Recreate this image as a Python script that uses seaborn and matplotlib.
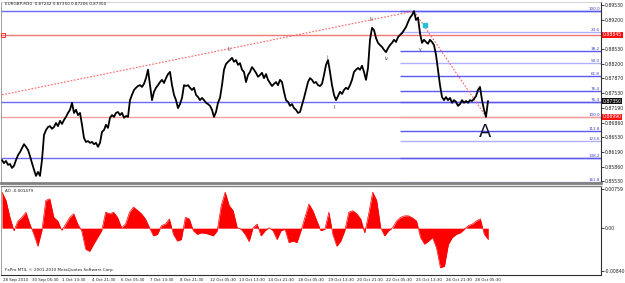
import numpy as np
import matplotlib
matplotlib.use("Agg")
import matplotlib.pyplot as plt
import matplotlib.transforms as mtransforms
import seaborn as sns

sns.set_theme(style="white")
plt.rcParams['font.family'] = ['DejaVu Sans']

# ---------------- data ----------------
close = [
    0.8601, 0.8594, 0.8599, 0.8590, 0.8592, 0.8583, 0.8588, 0.8601, 0.8612, 0.8619,
    0.8628, 0.8637, 0.8631, 0.8624, 0.8610, 0.8594, 0.8579, 0.8565, 0.8574, 0.8565,
    0.8601, 0.8658, 0.8669, 0.8676, 0.8678, 0.8672, 0.8676, 0.8685, 0.8678, 0.8690,
    0.8683, 0.8692, 0.8699, 0.8708, 0.8715, 0.8731, 0.8708, 0.8715, 0.8703, 0.8708,
    0.8681, 0.8651, 0.8642, 0.8644, 0.8640, 0.8642, 0.8637, 0.8640, 0.8631, 0.8640,
    0.8665, 0.8669, 0.8681, 0.8674, 0.8697, 0.8703, 0.8699, 0.8708, 0.8710, 0.8703,
    0.8708, 0.8697, 0.8701, 0.8699, 0.8737, 0.8749, 0.8760, 0.8765, 0.8769, 0.8771,
    0.8767, 0.8774, 0.8787, 0.8806, 0.8771, 0.8737, 0.8756, 0.8765, 0.8771, 0.8778,
    0.8783, 0.8776, 0.8787, 0.8796, 0.8801, 0.8771, 0.8749, 0.8737, 0.8719, 0.8728,
    0.8742, 0.8771, 0.8769, 0.8771, 0.8765, 0.8760, 0.8765, 0.8749, 0.8744, 0.8737,
    0.8742, 0.8737, 0.8731, 0.8728, 0.8724, 0.8715, 0.8699, 0.8710, 0.8731, 0.8742,
    0.8771, 0.8806, 0.8819, 0.8824, 0.8828, 0.8833, 0.8824, 0.8828, 0.8817, 0.8821,
    0.8806, 0.8801, 0.8778, 0.8794, 0.8801, 0.8812, 0.8806, 0.8799, 0.8790, 0.8794,
    0.8799, 0.8787, 0.8796, 0.8783, 0.8776, 0.8769, 0.8774, 0.8778, 0.8771, 0.8783,
    0.8778, 0.8756, 0.8737, 0.8733, 0.8724, 0.8728, 0.8719, 0.8715, 0.8708, 0.8710,
    0.8726, 0.8742, 0.8760, 0.8778, 0.8787, 0.8783, 0.8776, 0.8778, 0.8771, 0.8769,
    0.8774, 0.8794, 0.8817, 0.8828, 0.8801, 0.8771, 0.8749, 0.8737, 0.8746, 0.8756,
    0.8751, 0.8760, 0.8765, 0.8762, 0.8771, 0.8783, 0.8801, 0.8806, 0.8810, 0.8806,
    0.8815, 0.8801, 0.8783, 0.8810, 0.8874, 0.8901, 0.8896, 0.8878, 0.8867, 0.8862,
    0.8858, 0.8851, 0.8846, 0.8855, 0.8862, 0.8867, 0.8874, 0.8869, 0.8880, 0.8885,
    0.8889, 0.8896, 0.8903, 0.8914, 0.8924, 0.8930, 0.8939, 0.8919, 0.8924, 0.8889,
    0.8867, 0.8874, 0.8869, 0.8865, 0.8874, 0.8869, 0.8862, 0.8840, 0.8806, 0.8771,
    0.8744, 0.8737, 0.8744, 0.8737, 0.8742, 0.8731, 0.8737, 0.8733, 0.8724, 0.8728,
    0.8737, 0.8731, 0.8735, 0.8731, 0.8737, 0.8735, 0.8740, 0.8746, 0.8760, 0.8767,
    0.8737, 0.8715, 0.8699, 0.8735,
]

ao = [
    0.0070, 0.0054, 0.0021, -0.0005, 0.0014, 0.0021, 0.0031, 0.0008, -0.0012, -0.0035,
    -0.0005, 0.0054, 0.0057, 0.0021, 0.0014, -0.0004, 0.0008, 0.0021, 0.0028, 0.0008,
    -0.0005, -0.0041, -0.0045, -0.0031, -0.0018, -0.0005, 0.0031, 0.0028, 0.0031, 0.0021,
    0.0001, 0.0008, 0.0031, 0.0041, 0.0035, 0.0028, 0.0018, 0.0001, -0.0015, -0.0012,
    0.0005, 0.0008, 0.0018, -0.0012, -0.0025, -0.0022, 0.0021, 0.0018, -0.0005, -0.0012,
    -0.0009, -0.0010, -0.0012, -0.0015, -0.0005, 0.0044, 0.0070, 0.0044, 0.0034, 0.0001,
    -0.0002, -0.0012, -0.0026, 0.0001, 0.0008, -0.0015, -0.0005, 0.0001, -0.0005, -0.0022,
    -0.0005, -0.0002, -0.0028, -0.0025, -0.0028, -0.0005, 0.0021, 0.0047, 0.0034, 0.0014,
    -0.0005, -0.0002, 0.0031, -0.0012, -0.0035, -0.0025, -0.0005, 0.0031, 0.0034, 0.0028,
    0.0018, -0.0009, 0.0028, 0.0070, 0.0054, 0.0001, -0.0015, -0.0005, 0.0001, 0.0014,
    0.0021, 0.0024, 0.0024, 0.0020, 0.0014, -0.0018, -0.0031, -0.0025, -0.0018, -0.0038,
    -0.0077, -0.0074, -0.0031, -0.0018, -0.0012, -0.0009, -0.0002, 0.0005, 0.0008, 0.0014,
    0.0018, -0.0012, -0.0022,
]

date_labels = ["28 Sep 2010", "30 Sep 05:30", "1 Oct 13:30", "4 Oct 21:30", "6 Oct 05:30",
               "7 Oct 13:30", "8 Oct 21:30", "12 Oct 05:30", "13 Oct 13:30", "14 Oct 21:30",
               "18 Oct 05:30", "19 Oct 13:30", "20 Oct 21:30", "22 Oct 05:30", "25 Oct 13:30",
               "26 Oct 21:30", "28 Oct 05:30"]

price_ticks = [0.89530, 0.89200, 0.88530, 0.88200, 0.87870, 0.87530, 0.87190,
               0.86860, 0.86530, 0.86190, 0.85860, 0.85530]
price_tick_labels = ["0.89530", "0.89200", "0.88530", "0.88200", "0.87870", "0.87530",
                     "0.87190", "0.86860", "0.86530", "0.86190", "0.85860", "0.85530"]

full_levels = [0.8939, 0.8885, 0.8733, 0.8699, 0.8606]
full_colors = ["#6a6aff", "#f07878", "#6a6aff", "#f4a0a0", "#6a6aff"]

fib_levels = [0.8939, 0.8892, 0.8849, 0.8821, 0.8792, 0.8758, 0.8733, 0.8699,
              0.8667, 0.8644, 0.8606, 0.8551]
fib_labels = ["100.0", "23.6", "38.2", "50.0", "61.8", "76.4", "76.4", "100.0",
              "112.8", "123.6", "138.2", "161.8"]
fib_colors = ["#5a5af0", "#b0b0ff", "#5a5af0", "#b0b0ff", "#5a5af0", "#5a5af0",
              "#5a5af0", "#f4a0a0", "#5a5af0", "#b0b0ff", "#5a5af0", "#b0b0ff"]

box_labels = [(0.8885, "0.88845", "#ff1010"), (0.8735, "0.87350", "#101010"),
              (0.8699, "0.86990", "#ff1010")]

ao_ticks = [0.00759, 0.0, -0.00840]
ao_tick_labels = ["0.00759", "0.00", "-0.00840"]

wave_labels = [("iii", 228, 0.8853), ("i", 325, 0.8834), ("ii", 333, 0.8721),
               ("iii", 369, 0.8919), ("iv", 385, 0.8831), ("v", 418, 0.8851)]

# ---------------- figure ----------------
FS = 3.3
fig = plt.figure(figsize=(6.25, 2.83), dpi=100)
fig.patch.set_facecolor("white")
ax = fig.add_axes([0.0016, 0.3534, 0.96, 0.6396])
ax2 = fig.add_axes([0.0016, 0.0283, 0.96, 0.3145])

xs = np.arange(len(close)) * 2.0
xa = np.arange(len(ao)) * 3.986

for lv, c in zip(full_levels, full_colors):
    ax.axhline(lv, color=c, lw=1.0, zorder=1)
for lv, lab, c in zip(fib_levels, fib_labels, fib_colors):
    ax.hlines(lv, 398, 600, color=c, lw=1.0, zorder=1)
    ax.text(598, lv + 0.00005, lab, ha="right", va="bottom", fontsize=3.0,
            color="#4040d0")

ax.plot([0, 412], [0.8749, 0.8939], color="#ff6060", lw=0.8, ls=(0, (1.5, 1.5)), zorder=2)
ax.plot([412, 483], [0.8939, 0.8703], color="#ff6060", lw=0.8, ls=(0, (1.5, 1.5)), zorder=2)
ax.plot([1], [0.8885], marker="s", ms=2.5, mfc="none", mec="#ff3030", mew=0.7, zorder=4)

sns.lineplot(x=xs, y=close, ax=ax, color="black", lw=1.3, estimator=None, zorder=3)

for t, x, y in wave_labels:
    ax.text(x, y, t, fontsize=3.3, color="#404040", ha="center", va="center")
ax.text(483, 0.8665, "A", fontsize=13, color="#101030", ha="center", va="center")
ax.plot([423], [0.8907], marker="s", ms=3, color="#20c0e0", zorder=4)

ax.text(3, 0.8956, "EURGBP,M30  0.87242 0.87350 0.87206 0.87350", fontsize=3.0,
        color="#202020", ha="left", va="center")

ax.set_xlim(-1, 599)
ax.set_ylim(0.85489, 0.89598)
ax.yaxis.tick_right()
ax.set_yticks(price_ticks)
ax.set_yticklabels(price_tick_labels, fontsize=FS, color="#202020")
ax.tick_params(axis="y", length=2, width=0.6, pad=1.0, colors="#202020")
ax.set_xticks([])
ax.set_xlabel("")
ax.set_ylabel("")
trans = mtransforms.blended_transform_factory(ax.transAxes, ax.transData)
for lv, txt, c in box_labels:
    ax.text(1.003, lv, txt, transform=trans, fontsize=FS, color="white",
            ha="left", va="center",
            bbox=dict(boxstyle="square,pad=0.15", fc=c, ec="none"))

ax.spines["top"].set_color("#c0c0c0")
ax.spines["top"].set_linewidth(0.5)
ax.spines["left"].set_linestyle((0, (1, 1)))
ax.spines["left"].set_color("#909090")
ax.spines["left"].set_linewidth(0.6)
ax.spines["bottom"].set_color("#808080")
ax.spines["bottom"].set_linewidth(2.0)
ax.spines["right"].set_color("#303030")
ax.spines["right"].set_linewidth(0.8)

# AO panel
ax2.fill_between(xa, 0, ao, color="#ff0000", lw=0, zorder=2)
sns.lineplot(x=xa, y=ao, ax=ax2, color="#ff0000", lw=0.5, estimator=None, zorder=2)
ax2.set_xlim(-1, 599)
ax2.set_ylim(-0.0091, 0.0082)
ax2.yaxis.tick_right()
ax2.set_yticks(ao_ticks)
ax2.set_yticklabels(ao_tick_labels, fontsize=FS, color="#202020")
ax2.tick_params(axis="y", length=2, width=0.6, pad=1.0, colors="#202020")
tick_pos = [1 + 29.5 * k for k in range(len(date_labels))]
ax2.set_xticks(tick_pos)
ax2.set_xticklabels(date_labels, fontsize=2.9, ha="left", color="#202020")
ax2.tick_params(axis="x", length=1.5, width=0.6, pad=0.8, colors="#202020")
ax2.set_xlabel("")
ax2.set_ylabel("")
ax2.text(3, 0.0073, "AO -0.001479", fontsize=3.0, color="#202020", ha="left", va="center")
ax2.text(3, -0.0082, "FxPro MT4, \u00a9 2001-2010 MetaQuotes Software Corp.", fontsize=3.0,
         color="#202020", ha="left", va="center")
ax2.spines["top"].set_color("#808080")
ax2.spines["top"].set_linewidth(1.0)
ax2.spines["left"].set_linestyle((0, (1, 1)))
ax2.spines["left"].set_color("#909090")
ax2.spines["left"].set_linewidth(0.6)
ax2.spines["right"].set_color("#303030")
ax2.spines["right"].set_linewidth(0.8)
ax2.spines["bottom"].set_color("#303030")
ax2.spines["bottom"].set_linewidth(0.8)

fig.savefig("out.png", dpi=100, facecolor="white")
